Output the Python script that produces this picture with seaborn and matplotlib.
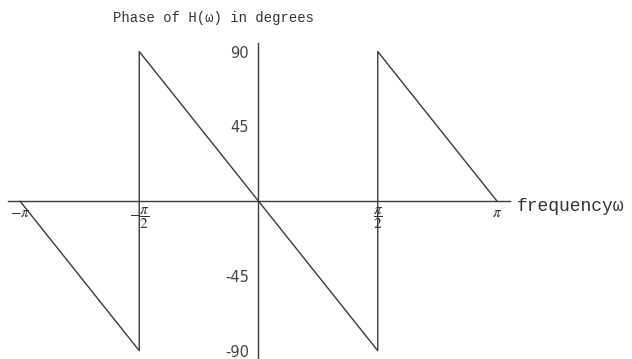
import numpy as np
import matplotlib
matplotlib.use("Agg")
import matplotlib.pyplot as plt
import seaborn as sns

# Phase response of H(w): breakpoints of the piecewise-linear curve (degrees)
omega = [-np.pi, -np.pi / 2, -np.pi / 2, np.pi / 2, np.pi / 2, np.pi]
phase_deg = [0, -90, 90, -90, 90, 0]

x_ticks = [-np.pi, -np.pi / 2, np.pi / 2, np.pi]
x_tick_labels = [r"$-\pi$", r"$-\dfrac{\pi}{2}$", r"$\dfrac{\pi}{2}$", r"$\pi$"]
y_ticks = [-90, -45, 45, 90]
y_tick_labels = ["-90", "-45", "45", "90"]

sns.set_style("white")
plt.rcParams["mathtext.fontset"] = "stix"
plt.rcParams["font.family"] = ["DejaVu Sans"]

ink = "#3a3a3a"

fig = plt.figure(figsize=(6.32, 3.59), dpi=100)
ax = fig.add_axes([0, 0, 1, 1])

sns.lineplot(x=omega, y=phase_deg, sort=False, estimator=None,
             color=ink, linewidth=1.0, ax=ax)

ax.set_xlim(-3.405, 4.920)
ax.set_ylim(-95.0, 121.0)

# Axes crossing at the origin
for side in ("top", "right"):
    ax.spines[side].set_visible(False)
ax.spines["left"].set_position(("data", 0))
ax.spines["bottom"].set_position(("data", 0))
ax.spines["left"].set_bounds(-95, 95)
ax.spines["bottom"].set_bounds(-3.30, 3.31)
for side in ("left", "bottom"):
    ax.spines[side].set_color(ink)
    ax.spines[side].set_linewidth(1.0)

ax.set_xticks(x_ticks)
ax.set_xticklabels(x_tick_labels, fontsize=11)
ax.set_yticks(y_ticks)
ax.set_yticklabels(y_tick_labels, fontsize=10.5, color="#444444")
ax.tick_params(axis="x", direction="in", length=3, width=0.9, color=ink,
               pad=3, labelcolor="#333333")
ax.tick_params(axis="y", direction="in", length=3, width=0.9, color=ink,
               pad=7)

mono = ["Liberation Mono", "DejaVu Sans Mono"]
ax.text(3.405, -3.5, "frequency\u03c9", ha="left", va="center",
        fontsize=13, family=mono, color="#333333")
fig.text(113 / 632, 1 - 18 / 359, "Phase of H(\u03c9) in degrees",
         ha="left", va="center", fontsize=10, family=mono, color="#333333")

fig.savefig("out.png", dpi=100)
